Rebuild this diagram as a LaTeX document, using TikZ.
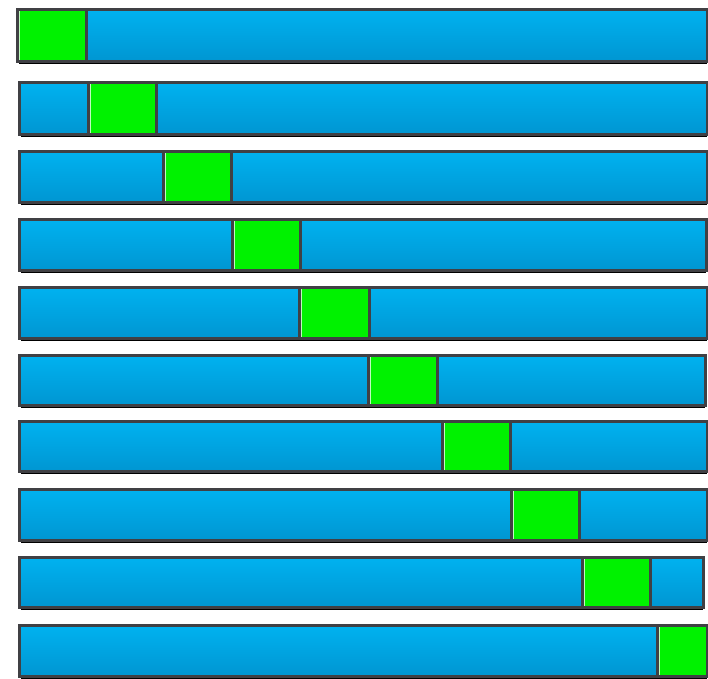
\documentclass[tikz,border=0pt]{standalone}
\usepackage{xcolor}
\usepackage{tikz}
\definecolor{skytop}{RGB}{0,178,240}
\definecolor{skybot}{RGB}{0,150,210}
\definecolor{cellgreen}{RGB}{0,242,0}
\definecolor{frame}{RGB}{64,64,68}
\definecolor{shade}{RGB}{232,233,236}
\tikzset{
  bluecell/.style={top color=skytop,bottom color=skybot,draw=none},
  greencell/.style={fill=cellgreen,draw=none},
  barframe/.style={draw=frame,line width=3pt},
  divider/.style={frame,line width=3pt},
  highlight/.style={white!75!cellgreen,line width=0.9pt},
  underline/.style={shade,line width=1.2pt}
}
\begin{document}
\begin{tikzpicture}[x=1pt,y=-1pt]
  \useasboundingbox (0,0) rectangle (708,678);
  % one bar per step: top / left / green start / green end / right / bottom
  \foreach \t/\l/\ga/\gb/\r/\b in {
      9/17/17/86/707/61,
      82/19/88/156/707/134,
      151/19/163/231/707/202,
      219/19/232/300/706/270,
      287/19/299/369/707/338,
      355/19/368/437/705/405,
      421/19/442/510/707/471,
      489/19/511/579/707/540,
      557/19/582/650/703/607,
      625/19/657/707/707/676} {
    \draw[underline] (\l+2,\b+2.6) -- (\r,\b+2.6);
    \path[bluecell] (\l,\t) rectangle (\r,\b);
    \path[greencell] (\ga,\t) rectangle (\gb,\b);
    \draw[highlight] (\ga+2,\t+1.5) -- (\ga+2,\b-1.5);
    \draw[divider] (\ga,\t) -- (\ga,\b);
    \draw[divider] (\gb,\t) -- (\gb,\b);
    \draw[barframe] (\l,\t) rectangle (\r,\b);
  }
\end{tikzpicture}
\end{document}
